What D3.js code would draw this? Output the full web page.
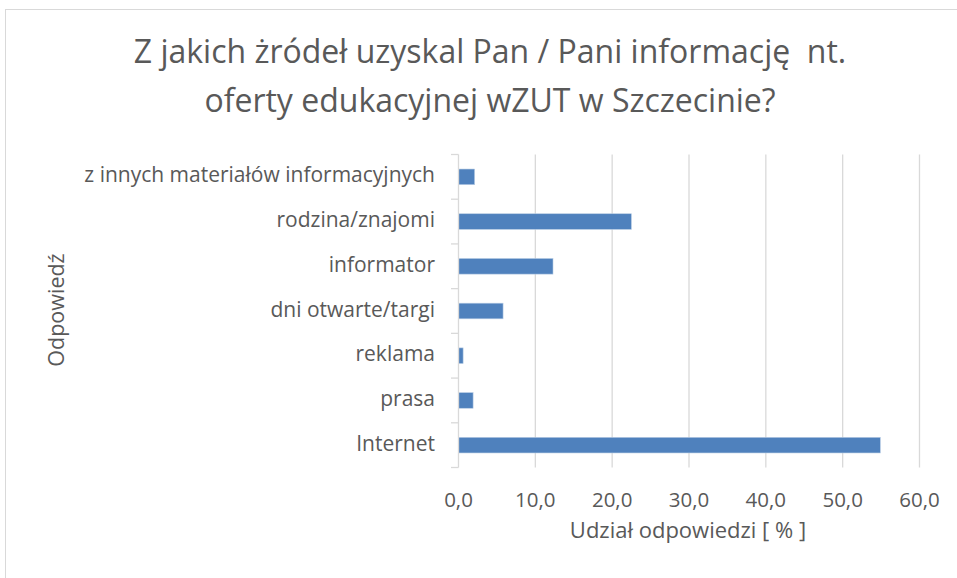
<!DOCTYPE html>
<html><head><meta charset="utf-8">
<script src="https://cdn.jsdelivr.net/npm/d3@7"></script>
<style>
html,body{margin:0;padding:0;background:#fff;}
text{font-family:"Open Sans",sans-serif;fill:#595959;white-space:pre;}
</style></head>
<body><svg id="c" width="957" height="578"></svg>
<script>
const categories = ["z innych materiałów informacyjnych","rodzina/znajomi","informator","dni otwarte/targi","reklama","prasa","Internet"];
const values = [2.1, 22.5, 12.3, 5.8, 0.6, 1.9, 54.9];
const xTicks = [0,10,20,30,40,50,60];
const titleLines = ["Z jakich żródeł uzyskal Pan / Pani informację  nt.","oferty edukacyjnej wZUT w Szczecinie?"];
const xTitle = "Udział odpowiedzi [ % ]";
const yTitle = "Odpowiedź";

const svg = d3.select("#c");
// chart border
svg.append("rect").attr("x",5.5).attr("y",9.5).attr("width",1000).attr("height",600)
  .attr("fill","#fff").attr("stroke","#d9d9d9").attr("stroke-width",1);

const x = d3.scaleLinear().domain([0,60]).range([458.5,919.5]);
const y = d3.scaleBand().domain(categories).range([154.5,467.5]).paddingInner(0.65).paddingOuter(0.325);
const yb = d3.scaleBand().domain(categories).range([154.5,467.5]);

// gridlines
svg.append("g").selectAll("line").data(xTicks.slice(1)).join("line")
  .attr("x1",d=>x(d)).attr("x2",d=>x(d)).attr("y1",154.5).attr("y2",467.5)
  .attr("stroke","#d9d9d9").attr("stroke-width",1.3);

// bars
svg.append("g").selectAll("rect").data(categories).join("rect")
  .attr("x",x(0)).attr("y",d=>y(d)).attr("height",y.bandwidth())
  .attr("width",(d,i)=>x(values[i])-x(0))
  .attr("fill","#4f81bd").attr("stroke","#b9cde5").attr("stroke-width",0.6);

// y axis line + ticks at category boundaries
const boundaries = categories.map(c=>yb(c)).concat([467.5]);
svg.append("line").attr("x1",458.5).attr("x2",458.5).attr("y1",154.5).attr("y2",467.5)
  .attr("stroke","#d9d9d9").attr("stroke-width",1.3);
svg.append("g").selectAll("line").data(boundaries).join("line")
  .attr("x1",451).attr("x2",458.5).attr("y1",d=>d).attr("y2",d=>d)
  .attr("stroke","#d9d9d9").attr("stroke-width",1.3);

// category labels
svg.append("g").selectAll("text").data(categories).join("text")
  .attr("x",435).attr("y",d=>yb(d)+yb.bandwidth()/2+5.5)
  .attr("text-anchor","end").style("font-size","21px").text(d=>d);

// x tick labels
svg.append("g").selectAll("text").data(xTicks).join("text")
  .attr("x",d=>x(d)).attr("y",507).attr("text-anchor","middle")
  .style("font-size","20.5px").text(d=>d3.format(".1f")(d).replace(".",","));

// axis titles
svg.append("text").attr("x",688).attr("y",538).attr("text-anchor","middle")
  .style("font-size","22px").text(xTitle);
svg.append("text").attr("transform","translate(64,310) rotate(-90)").attr("text-anchor","middle")
  .style("font-size","21.5px").text(yTitle);

// title
svg.append("g").selectAll("text").data(titleLines).join("text")
  .attr("x",490).attr("y",(d,i)=>63+i*49).attr("text-anchor","middle")
  .style("font-size","32px").text(d=>d);
</script></body></html>
